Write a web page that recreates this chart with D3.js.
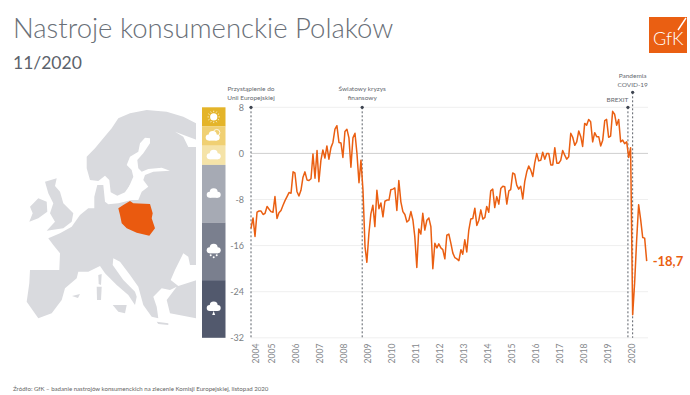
<!DOCTYPE html>
<html>
<head>
<meta charset="utf-8">
<script src="https://cdn.jsdelivr.net/npm/d3@7"></script>
<style>
  body { margin: 0; background: #fff; font-family: Lato, sans-serif; }
  text { font-family: Lato, sans-serif; }
</style>
</head>
<body>
<svg id="drawing_region"></svg>
<script>
// monthly index, May 2004 - Nov 2020
const values = [
  -13, -11.2, -14.4, -10.2, -10, -10, -10.6, -10.4, -9.2, -9.7, -10.1, -10.2, -7.5, -11.3, -10.3, -9.9, -9, -8.2, -7.5, -6.8,
  -6.9, -3.2, -3.4, -6.6, -7.4, -6.4, -4.2, -3.2, -4.6, -4.7, -4.4, -0.1, -4.3, 0.5, -4.9, -1.2, 0.6, -0.8, 1.3, -1,
  1, 1.9, 4.2, 4.8, 1.9, 1.8, -0.7, 3.8, 4.2, 2.7, -2.4, 2.7, 3.5, 0, -5.1, -1.2, -6.4, -16.2, -18.9, -13.9,
  -10.5, -9, -12.7, -6.4, -9.6, -8.6, -11, -8.3, -8.1, -8.1, -6.3, -6.2, -6, -9.9, -4.7, -8.4, -10.1, -10.6, -11.9, -11.6,
  -10.1, -11.6, -14.4, -19.8, -13.1, -14, -10.4, -13.3, -11.6, -11.2, -12.7, -20, -15.6, -16.4, -15.7, -16.4, -16.7, -18.3, -14.2, -14,
  -15.6, -17.3, -18.1, -18.3, -18.6, -16.7, -17.5, -15, -17.1, -13.3, -11.4, -11.3, -9.5, -12.5, -11.6, -9.8, -11.4, -11.1, -9.2, -10.2,
  -6.5, -6.2, -9.4, -7.5, -8.8, -6.1, -5.7, -5.8, -8.8, -6.5, -6.3, -3.4, -3.6, -5.5, -6.2, -5.7, -7.9, -4.9, -3.2, -2.2,
  -2.9, -4, -1.7, 0, -1.3, -1.2, 0.2, -1, 0, 0, -2, -2, 1, -1.7, -1.7, -1.2, 0.5, -0.3, -1, -0.6,
  3.5, 2.8, 1.4, 2, 3.9, 2.9, 1.2, 5.2, 4.9, 5.9, 5.5, 2, 3.6, 2.9, 2.9, 1.3, 2.3, 5.7, 5.9, 2.8,
  3, 7.3, 6.8, 4.9, 5.9, 2, 2.3, 1.7, 2, -0.7, 1, -28, -22.5, -15, -8.9, -11.5, -14.6, -14.7, -18.7
];
const startDate = new Date(2004, 4, 1);
const dates = values.map((v, i) => new Date(2004, 4 + i, 1));

const yTicks = [8, 0, -8, -16, -24, -32];
const yearLabels = [2004, 2005, 2006, 2007, 2008, 2009, 2010, 2011, 2012, 2013, 2014, 2015, 2016, 2017, 2018, 2019, 2020];
const yearTickDates = yearLabels.map(y => y === 2004 ? new Date(2004, 6, 10) : new Date(y, 2, 12));

const events = [
  { date: new Date(2004, 4, 1), lines: ['Przystąpienie do', 'Unii Europejskiej'] },
  { date: new Date(2008, 11, 20), lines: ['Światowy kryzys', 'finansowy'] },
  { date: new Date(2020, 0, 20), lines: ['BREXIT'] },
  { date: new Date(2020, 3, 1), lines: ['Pandemia', 'COVID-19'] }
];

// weather bands on the value axis
const bandEdges = [8, 4.67, 1.33, -2, -12, -22, -32];
const bandColors = ['#e4b429', '#f0d073', '#f5e3a8', '#a6aab4', '#7a7f8e', '#52596d'];
const bandIcons = ['sun', 'suncloud', 'cloud', 'cloud', 'snow', 'drop'];

// map outlines
const europe = [[196,123.3],[183.3,116.7],[166.7,111.7],[146.7,110],[130,113.3],[118.3,118.3],[111.7,128.3],[103.3,138.3],[95,148.3],[86.7,156.7],[86.7,168.3],[90,180],[98.3,181],[105,175.7],[109.3,180],[110.7,192.3],[117.3,195.7],[125,192.3],[130,185],[131.7,200],[118.3,203.3],[108.3,204.3],[105,201.7],[103.3,185],[97.3,185],[94.3,196.7],[94.3,208.3],[88.3,208.3],[80,215],[71.7,226.7],[60,233.3],[48.3,238.3],[53.3,245],[60,253.3],[59.3,270],[45,270],[30,270],[29.3,283.3],[26.7,301.7],[38.3,318.3],[51.7,313.3],[61.7,300],[65,288.3],[76.7,278.3],[78.3,271.7],[88.3,271.7],[100,266],[105,273.3],[116.7,285],[128.3,295],[135,305],[136.7,296.7],[135,291.7],[123.3,280],[112.7,265],[113.3,258.3],[120,261.7],[130,275],[138.3,286.7],[143.3,305],[151.7,316.7],[158.3,318.3],[156.7,306.7],[153.3,296.7],[161.7,288.3],[170,290],[176.7,286.7],[166.7,300],[170,313.3],[196,318.3]];
const baltic = [[150,138.3],[145,137.7],[140,143.3],[138.3,151.7],[130,156.7],[126.7,165],[131.7,170],[133.3,176.7],[128.3,188.3],[123.3,195],[118.3,200],[138.3,200],[141.7,191.7],[148.3,186.7],[143.3,180],[145,175],[153.3,171.7],[170,170.7],[161.7,167.7],[148.3,169],[141.7,171.7],[138.3,168.3],[137.3,160],[143.3,153.3],[150,143.3]];
const whiteSea = [[175,131.7],[188.3,136.7],[197,140],[197,147],[188.3,147],[183.3,136.7]];
const blackSea = [[183.3,253.3],[175,270],[170.7,280],[178.3,286],[197,280],[197,265],[190,265],[188.3,256.7]];
const britain = [[45,181.7],[56.7,178.3],[55,186],[60,191.7],[63.3,203.3],[73.3,213.3],[71.7,221.7],[63.3,228.3],[46.7,230.7],[55,221.7],[50,213.3],[53.3,203.3],[48.3,193.3]];
const ireland = [[30,206.7],[38.3,198.3],[46.7,201.7],[47.3,211.7],[38.3,218.3],[29.3,221.7],[32.7,213.3]];
const islands = [
  [[96.7,286.7],[101.7,286.7],[101,300],[97,300]],
  [[98.3,275],[101.7,274],[101,285],[98.7,284]],
  [[112.7,305],[126.7,305],[125,313.3],[118.3,311.7]],
  [[156.7,321.7],[168.3,323.3],[168.3,325],[158.3,324]],
  [[72,296],[80,294],[78,298]]
];
const poland = [[118.3,208.3],[123.3,205],[130,201],[133.3,203.3],[150,204],[152.7,213.3],[151.7,218.3],[155,228.3],[149.3,235.7],[136.7,232.7],[126.7,228.3],[121.7,223.3],[120,215]];

const width = 690, height = 395;
const orange = '#ea5f12';

const svg = d3.select('#drawing_region').attr('width', width).attr('height', height).style('display', 'block');

// titles
svg.append('text').attr('x', 13).attr('y', 38).attr('font-size', 27.5).attr('font-weight', 300).attr('fill', '#6a7078')
  .text('Nastroje konsumenckie Polaków');
svg.append('text').attr('x', 13).attr('y', 69).attr('font-size', 17.5).attr('fill', '#5c626b').text('11/2020');
svg.append('text').attr('x', 13).attr('y', 391).attr('font-size', 6.1).attr('fill', '#666').text('Źródło: GfK – badanie nastrojów konsumenckich na zlecenie Komisji Europejskiej, listopad 2020');

// logo
const logo = svg.append('g').attr('transform', 'translate(649,17)');
logo.append('rect').attr('width', 38).attr('height', 36).attr('fill', orange);
logo.append('text').attr('x', 4).attr('y', 28).attr('font-size', 18).attr('font-weight', 300).attr('fill', '#fff').text('GfK');
logo.append('line').attr('x1', 29).attr('y1', 13).attr('x2', 37).attr('y2', 1).attr('stroke', '#fff').attr('stroke-width', 1.4);

// map
const map = svg.append('g');
const shape = d3.line().curve(d3.curveLinearClosed);
[europe, britain, ireland, ...islands].forEach(p => map.append('path').attr('d', shape(p)).attr('fill', '#d9dade'));
[baltic, whiteSea, blackSea].forEach(p => map.append('path').attr('d', shape(p)).attr('fill', '#fff'));
map.append('path').attr('d', shape(poland)).attr('fill', '#ea5a0f');

// scales
const x = d3.scaleTime().domain([startDate, dates[dates.length - 1]]).range([251, 646.7]);
const y = d3.scaleLinear().domain([8, -32]).range([107.3, 337.8]);

// grid + y axis
const yAxis = svg.append('g').attr('transform', 'translate(251,0)')
  .call(d3.axisLeft(y).tickValues(yTicks).tickSize(0).tickPadding(7).tickFormat(d => d));
yAxis.select('.domain').remove();
yAxis.selectAll('text').attr('font-size', 9).attr('fill', '#7c7f84').style('font-family', 'Lato');

svg.append('g').selectAll('line').data(yTicks).join('line')
  .attr('x1', 251).attr('x2', 648)
  .attr('y1', d => y(d)).attr('y2', d => y(d))
  .attr('stroke', d => d === 0 ? '#cfcfcf' : '#efefef').attr('stroke-width', 1);

// x axis
const xAxis = svg.append('g').attr('transform', 'translate(0,343)')
  .call(d3.axisBottom(x).tickValues(yearTickDates).tickSize(0).tickFormat(d => d.getFullYear()));
xAxis.select('.domain').remove();
xAxis.selectAll('text')
  .attr('transform', 'rotate(-90)')
  .attr('text-anchor', 'end')
  .attr('x', -0.5).attr('y', 0).attr('dy', '0.32em')
  .attr('font-size', 8.6).attr('fill', '#85888c').style('font-family', 'Lato');

// weather bands
const bands = svg.append('g');
bandColors.forEach((c, i) => {
  const y0 = y(bandEdges[i]), y1 = y(bandEdges[i + 1]);
  bands.append('rect').attr('x', 202).attr('width', 23.5).attr('y', y0).attr('height', y1 - y0).attr('fill', c);
  drawIcon(bands.append('g').attr('transform', `translate(213.7,${(y0 + y1) / 2})`), bandIcons[i]);
});

function drawCloud(g, dx, dy) {
  const c = g.append('g').attr('transform', `translate(${dx},${dy})`).attr('fill', '#fff');
  c.append('circle').attr('cx', -4).attr('cy', 1).attr('r', 3);
  c.append('circle').attr('cx', 0).attr('cy', -1.5).attr('r', 4);
  c.append('circle').attr('cx', 4).attr('cy', 1).attr('r', 3);
  c.append('rect').attr('x', -4).attr('y', 0).attr('width', 8).attr('height', 4);
}

function drawIcon(g, kind) {
  if (kind === 'sun') {
    g.append('circle').attr('r', 3.6).attr('fill', '#fff');
    d3.range(12).forEach(i => {
      const a = i * Math.PI / 6;
      g.append('line').attr('x1', Math.cos(a) * 4.8).attr('y1', Math.sin(a) * 4.8)
        .attr('x2', Math.cos(a) * 6.2).attr('y2', Math.sin(a) * 6.2)
        .attr('stroke', '#fff').attr('stroke-width', 0.7);
    });
  } else if (kind === 'suncloud') {
    g.append('circle').attr('cx', 3).attr('cy', -3.5).attr('r', 3.2).attr('fill', 'none').attr('stroke', '#fff').attr('stroke-width', 0.8);
    drawCloud(g, -1, 0.5);
  } else if (kind === 'cloud') {
    drawCloud(g, 0, 0);
  } else if (kind === 'snow') {
    drawCloud(g, 0, -2);
    [[-3, 4], [0, 6], [3, 4]].forEach(p => g.append('circle').attr('cx', p[0]).attr('cy', p[1]).attr('r', 1).attr('fill', '#fff'));
  } else {
    drawCloud(g, 0, -2);
    g.append('path').attr('d', 'M0,2L-1.5,6H1.5Z').attr('fill', '#fff');
  }
}

// event markers
const topY = [y(8), y(8), y(8), 92.3];
events.forEach((e, i) => {
  const ex = x(e.date);
  svg.append('line').attr('x1', ex).attr('x2', ex).attr('y1', topY[i]).attr('y2', y(-32))
    .attr('stroke', '#5b6068').attr('stroke-width', 1).attr('stroke-dasharray', '2,2');
  svg.append('circle').attr('cx', ex).attr('cy', topY[i]).attr('r', 1.6).attr('fill', '#3e4450');
  const anchorRight = e.lines[0] === 'BREXIT';
  e.lines.forEach((t, j) => {
    svg.append('text')
      .attr('x', anchorRight ? ex + 0.5 : ex)
      .attr('y', topY[i] - 5 - (e.lines.length - 1 - j) * 9.3 - (i < 2 ? 2 : 0))
      .attr('text-anchor', anchorRight ? 'end' : 'middle')
      .attr('font-size', 6.5).attr('fill', '#666a70').text(t);
  });
});

// series
const line = d3.line().x((d, i) => x(dates[i])).y(d => y(d));
svg.append('path').datum(values).attr('d', line)
  .attr('fill', 'none').attr('stroke', orange).attr('stroke-width', 1.5).attr('stroke-linejoin', 'round');

svg.append('text').attr('x', x(dates[dates.length - 1]) + 6).attr('y', y(values[values.length - 1]) + 4.5)
  .attr('font-size', 13).attr('font-weight', 700).attr('fill', orange).text('-18,7');
</script>
</body>
</html>
